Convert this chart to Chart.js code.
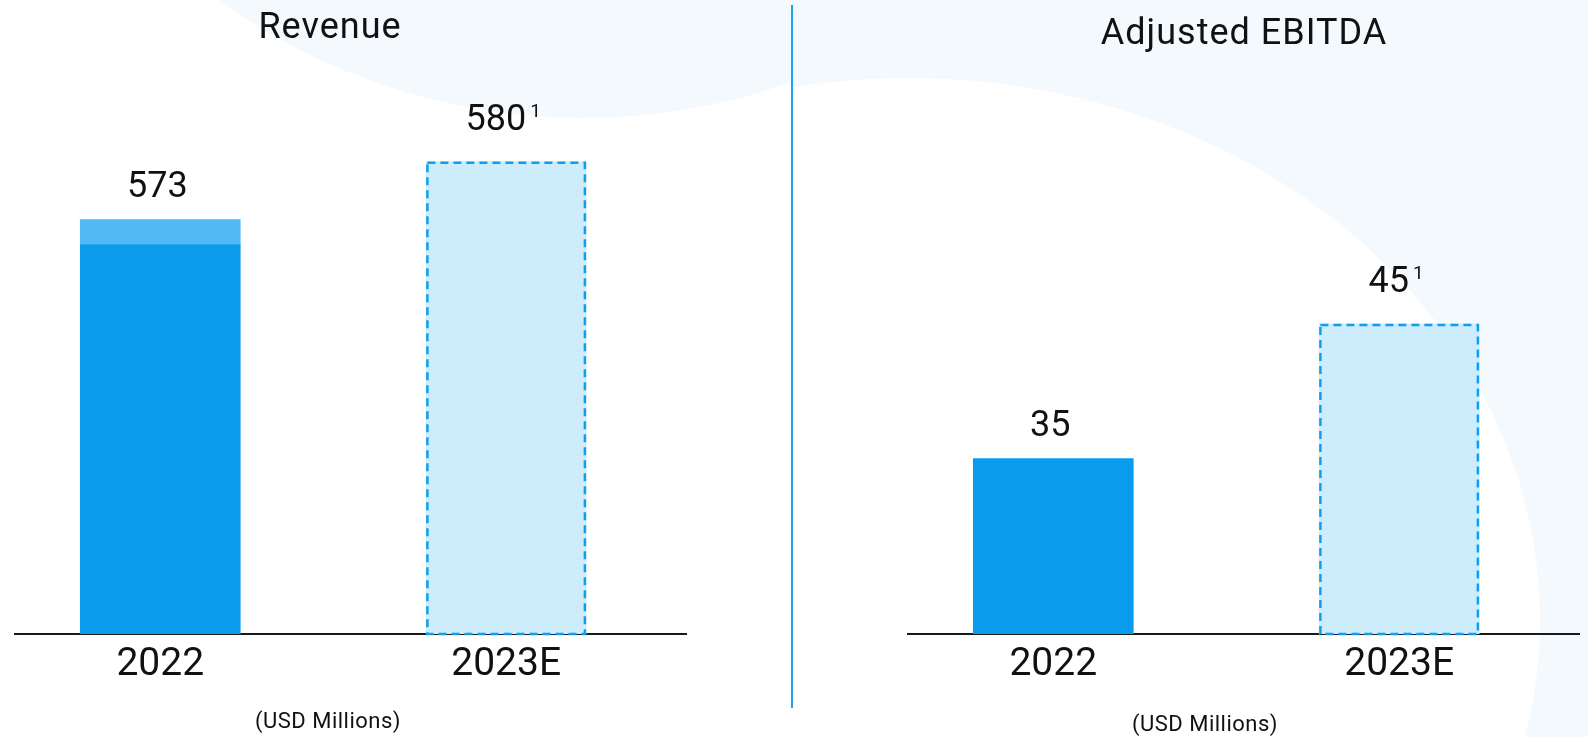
<!DOCTYPE html>
<html>
<head>
<meta charset="utf-8">
<script src="https://cdn.jsdelivr.net/npm/chart.js@4.4.1/dist/chart.umd.min.js"></script>
<style>
  html, body { margin: 0; padding: 0; background: #fff; }
  #stage { position: relative; width: 1588px; height: 737px; overflow: hidden; background: #fff; font-family: Roboto, sans-serif; color: #111; }
  #bg { position: absolute; left: 0; top: 0; }
  canvas { position: absolute; top: 0; }
  .title { position: absolute; font-size: 36px; line-height: 1; letter-spacing: 1px; white-space: nowrap; transform: translateX(-50%); }
  .unit { position: absolute; font-size: 22px; line-height: 1; letter-spacing: 0.5px; white-space: nowrap; transform: translateX(-50%); }
  #divider { position: absolute; left: 791px; top: 5px; width: 2px; height: 703px; background: #1ea5f0; }
</style>
</head>
<body>
<div id="stage">
  <svg id="bg" width="1588" height="737">
    <rect x="793" y="0" width="795" height="737" fill="#f4f9fe"/>
    <ellipse cx="909" cy="620" rx="631" ry="542" fill="#fff"/>
    <circle cx="583" cy="-505" r="623" fill="#f4f9fe"/>
  </svg>
  <canvas id="revenue" width="790" height="737" style="left:0"></canvas>
  <canvas id="ebitda" width="695" height="737" style="left:893px"></canvas>
  <div id="divider"></div>
  <div class="title" style="left:330px; top:8px">Revenue</div>
  <div class="title" style="left:1244px; top:14px">Adjusted EBITDA</div>
  <div class="unit" style="left:328px; top:710px">(USD Millions)</div>
  <div class="unit" style="left:1205px; top:713px">(USD Millions)</div>
</div>
<script>
// data
var categories = ['2022', '2023E'];
var revenueActual = [570, null];
var revenueActualTop = [3, null];
var revenueEstimate = [null, 580];
var revenueLabels = ['573', '580'];
var revenueNotes = ['', '1'];
var ebitdaActual = [35, null];
var ebitdaEstimate = [null, 45];
var ebitdaLabels = ['35', '45'];
var ebitdaNotes = ['', '1'];

var DARK = '#0a9bed';
var LIGHT = '#52b9f4';
var EST_FILL = '#cdedfd';
var EST_LINE = '#0f9ff0';

function points(arr) {
  var out = [];
  arr.forEach(function (v, i) { if (v !== null) out.push({ x: i, y: v }); });
  return out;
}

// dashed outlines + value labels with footnote marks
var barDecor = {
  id: 'barDecor',
  afterDatasetsDraw: function (chart, args, opts) {
    var ctx = chart.ctx;
    var bottom = chart.chartArea.bottom;
    chart.data.datasets.forEach(function (ds, di) {
      if (!ds.dashed) return;
      chart.getDatasetMeta(di).data.forEach(function (bar) {
        var p = bar.getProps(['x', 'y', 'base', 'width'], true);
        var base = Math.min(p.base, bottom);
        ctx.save();
        ctx.strokeStyle = EST_LINE;
        ctx.lineWidth = 2.5;
        ctx.setLineDash([8, 5]);
        ctx.strokeRect(p.x - p.width / 2 + 1.25, p.y + 1.25, p.width - 2.5, base - p.y - 1.25);
        ctx.restore();
      });
    });
    opts.labels.forEach(function (txt, i) {
      var top = null, x = 0, gap = 0;
      chart.data.datasets.forEach(function (ds, di) {
        chart.getDatasetMeta(di).data.forEach(function (bar, j) {
          if (ds.data[j].x !== i) return;
          if (top === null || bar.y < top) { top = bar.y; x = bar.x; gap = ds.labelGap; }
        });
      });
      if (top === null) return;
      var note = opts.notes[i];
      ctx.save();
      ctx.fillStyle = '#111';
      ctx.textBaseline = 'alphabetic';
      ctx.textAlign = 'left';
      ctx.font = '36px Roboto';
      var w1 = ctx.measureText(txt).width;
      ctx.font = '19px Roboto';
      var w2 = note ? ctx.measureText(note).width + 4 : 0;
      var sx = x - (w1 + w2) / 2 - 3;
      ctx.font = '36px Roboto';
      ctx.fillText(txt, sx, top - gap);
      if (note) {
        ctx.font = '19px Roboto';
        ctx.fillText(note, sx + w1 + 4, top - gap - 13);
      }
      ctx.restore();
    });
  }
};

function makeChart(id, datasets, yMin, yMax, padRight, labels, notes) {
  return new Chart(document.getElementById(id), {
    type: 'bar',
    data: { datasets: datasets },
    options: {
      responsive: false,
      animation: false,
      devicePixelRatio: 1,
      layout: { padding: { left: 15, right: padRight, top: 0, bottom: 40 } },
      plugins: {
        legend: { display: false },
        tooltip: { enabled: false },
        barDecor: { labels: labels, notes: notes }
      },
      scales: {
        x: {
          type: 'linear',
          offset: false,
          bounds: 'data',
          min: -0.42,
          max: 1.52,
          stacked: true,
          grid: { display: false, drawTicks: false },
          border: { display: true, color: '#1a1a1a', width: 2 },
          afterBuildTicks: function (scale) {
            scale.ticks = categories.map(function (c, i) { return { value: i }; });
          },
          ticks: {
            autoSkip: false,
            maxRotation: 0,
            padding: 12,
            color: '#111',
            font: { family: 'Roboto', size: 39, lineHeight: 1 },
            callback: function (v) { return categories[v] !== undefined ? categories[v] : ''; }
          }
        },
        y: { display: false, stacked: true, min: yMin, max: yMax }
      }
    },
    plugins: [barDecor]
  });
}

makeChart('revenue', [
  { data: points(revenueActual), backgroundColor: DARK, barThickness: 160, labelGap: 23 },
  { data: points(revenueActualTop), backgroundColor: LIGHT, barThickness: 160, labelGap: 23 },
  { data: points(revenueEstimate), backgroundColor: EST_FILL, barThickness: 160, labelGap: 32, dashed: true }
], 523, 599.5, 104, revenueLabels, revenueNotes);

makeChart('ebitda', [
  { data: points(ebitdaActual), backgroundColor: DARK, barThickness: 160, labelGap: 23 },
  { data: points(ebitdaEstimate), backgroundColor: EST_FILL, barThickness: 160, labelGap: 32, dashed: true }
], 22, 69, 9, ebitdaLabels, ebitdaNotes);
</script>
</body>
</html>
